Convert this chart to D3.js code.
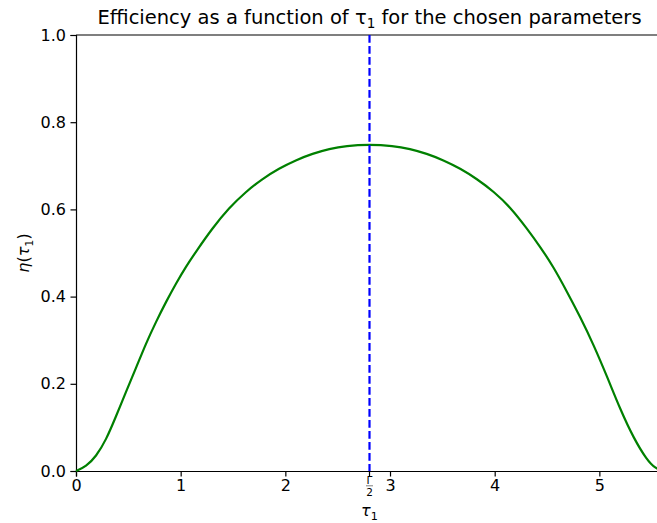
<!DOCTYPE html>
<html>
<head>
<meta charset="utf-8">
<script src="https://cdn.jsdelivr.net/npm/d3@7"></script>
<style>
  html, body { margin: 0; padding: 0; background: #fff; }
  svg { display: block; font-family: "DejaVu Sans", sans-serif; }
</style>
</head>
<body>
<svg id="chart" width="657" height="523"></svg>
<script>
// Efficiency curve samples: tau_1 and eta(tau_1)
const tauValues = [0, 0.096, 0.191, 0.287, 0.382, 0.478, 0.573, 0.669, 0.764, 0.860, 0.955, 1.051, 1.146, 1.30, 1.46, 1.62, 1.78, 1.94, 2.10, 2.26, 2.42, 2.58, 2.80,
                   3.03, 3.19, 3.35, 3.51, 3.67, 3.83, 3.99, 4.15, 4.309, 4.436, 4.564, 4.691, 4.818, 4.946, 5.073, 5.200, 5.328, 5.455, 5.535, 5.608];
const etaValues = [0, 0.010, 0.033, 0.071, 0.125, 0.182, 0.236, 0.293, 0.342, 0.388, 0.430, 0.469, 0.503, 0.556, 0.603, 0.640, 0.670, 0.694, 0.713, 0.728, 0.739, 0.746, 0.749,
                   0.746, 0.739, 0.728, 0.713, 0.694, 0.670, 0.641, 0.605, 0.556, 0.514, 0.467, 0.411, 0.353, 0.289, 0.217, 0.141, 0.075, 0.025, 0.006, 0];

// Domain end (Gamma) and the optimum marker at Gamma/2
const gamma = 5.608;
const gammaHalf = 2.804;

const xTicks = [0, 1, 2, 3, 4, 5];
const yTicks = [0.0, 0.2, 0.4, 0.6, 0.8, 1.0];

const svg = d3.select("#chart");
const m = { left: 76, top: 35, bottom: 471, right: 663 };

const x = d3.scaleLinear().domain([0, gamma]).range([m.left, m.right]);
const y = d3.scaleLinear().domain([0, 1]).range([m.bottom, m.top]);

const tickFont = 16;

// Y axis
const yAxis = svg.append("g")
  .attr("transform", `translate(${m.left},0)`)
  .call(d3.axisLeft(y).tickValues(yTicks).tickFormat(d3.format(".1f")).tickSizeOuter(0).tickSize(5.5).tickPadding(4.5));

// X axis
const xAxis = svg.append("g")
  .attr("transform", `translate(0,${m.bottom})`)
  .call(d3.axisBottom(x).tickValues(xTicks).tickFormat(d3.format("d")).tickSizeOuter(0).tickSize(5.5).tickPadding(3.5));

[yAxis, xAxis].forEach(g => {
  g.select(".domain").attr("stroke", "#000").attr("stroke-width", 1.2);
  g.selectAll(".tick line").attr("stroke", "#000").attr("stroke-width", 1.2);
  g.selectAll(".tick text").attr("fill", "#000")
    .style("font-size", tickFont + "px").style("font-family", "DejaVu Sans");
});

// Extra Gamma/2 tick with a compact stacked fraction label
const gx = x(gammaHalf);
const gt = svg.append("g").attr("transform", `translate(${gx},${m.bottom})`);
gt.append("line").attr("y2", 5.5).attr("stroke", "#000").attr("stroke-width", 1.2);
gt.append("text").attr("x", 0).attr("y", 12.5).attr("text-anchor", "middle")
  .style("font-size", "10.5px").text("Γ");
gt.append("line").attr("x1", -3.5).attr("x2", 3.5).attr("y1", 14.8).attr("y2", 14.8)
  .attr("stroke", "#000").attr("stroke-width", 0.5);
gt.append("text").attr("x", 0).attr("y", 25).attr("text-anchor", "middle")
  .style("font-size", "10.5px").text("2");

// Top and right spines
svg.append("line").attr("x1", m.left).attr("x2", m.right).attr("y1", m.top).attr("y2", m.top)
  .attr("stroke", "#000").attr("stroke-width", 1.2);
svg.append("line").attr("x1", m.right).attr("x2", m.right).attr("y1", m.top).attr("y2", m.bottom)
  .attr("stroke", "#000").attr("stroke-width", 1.2);

// Efficiency curve
const line = d3.line()
  .x((d, i) => x(tauValues[i]))
  .y((d, i) => y(etaValues[i]))
  .curve(d3.curveBasis);

svg.append("path")
  .datum(etaValues)
  .attr("d", line)
  .attr("fill", "none")
  .attr("stroke", "#008000")
  .attr("stroke-width", 2.2);

// Optimum marker
svg.append("line")
  .attr("x1", gx).attr("x2", gx)
  .attr("y1", y(1)).attr("y2", y(0))
  .attr("stroke", "#0000ff")
  .attr("stroke-width", 2.2)
  .attr("stroke-dasharray", "7.7,3.3");

// Title
const title = svg.append("text")
  .attr("x", (m.left + m.right) / 2).attr("y", 24)
  .attr("text-anchor", "middle")
  .style("font-size", "19.5px");
title.append("tspan").text("Efficiency as a function of τ");
title.append("tspan").attr("dy", 4).style("font-size", "13.6px").text("1");
title.append("tspan").attr("dy", -4).text(" for the chosen parameters");

// X label
const xl = svg.append("text")
  .attr("x", (m.left + m.right) / 2).attr("y", 516)
  .attr("text-anchor", "middle")
  .style("font-size", "16px");
xl.append("tspan").style("font-style", "italic").text("τ");
xl.append("tspan").attr("dy", 3.5).style("font-size", "11.2px").text("1");

// Y label
const yl = svg.append("text")
  .attr("transform", `translate(29,${(m.top + m.bottom) / 2}) rotate(-90)`)
  .attr("text-anchor", "middle")
  .style("font-size", "16px");
yl.append("tspan").style("font-style", "italic").text("η");
yl.append("tspan").text("(");
yl.append("tspan").style("font-style", "italic").text("τ");
yl.append("tspan").attr("dy", 3.5).style("font-size", "11.2px").text("1");
yl.append("tspan").attr("dy", -3.5).text(")");
</script>
</body>
</html>
